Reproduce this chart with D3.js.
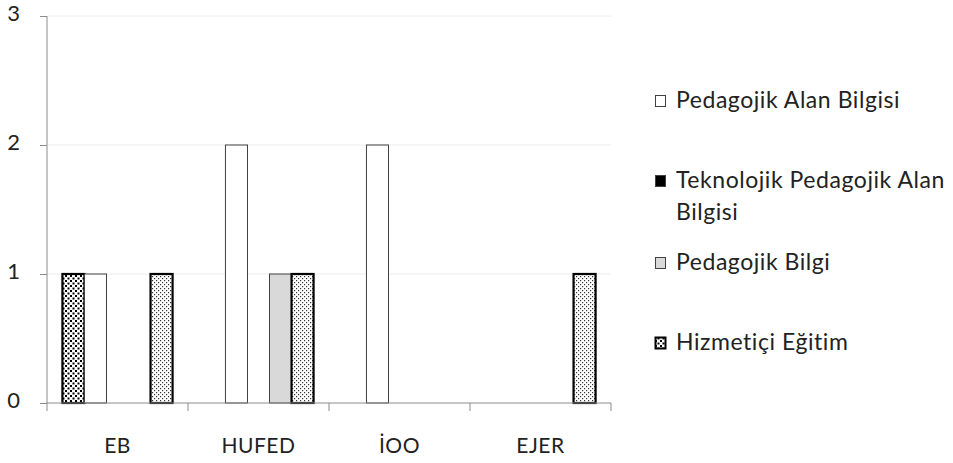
<!DOCTYPE html>
<html>
<head>
<meta charset="utf-8">
<script src="https://cdn.jsdelivr.net/npm/d3@7"></script>
<style>
  html, body { margin: 0; padding: 0; background: #fff; }
  svg { display: block; font-family: Lato, "Open Sans", sans-serif; }
</style>
</head>
<body>
<svg id="chart" width="953" height="463"></svg>
<script>
// Journals / sources on the x axis
const categories = ["EB", "HUFED", "İOO", "EJER"];

// One array per series, values in category order
const seriesKeys = ["s0", "pab", "tpab", "pb", "he"];
const s0Values   = [1, 0, 0, 0];   // dark dotted, not listed in the legend
const pabValues  = [1, 2, 2, 0];   // Pedagojik Alan Bilgisi
const tpabValues = [0, 0, 0, 0];   // Teknolojik Pedagojik Alan Bilgisi
const pbValues   = [0, 1, 0, 0];   // Pedagojik Bilgi
const heValues   = [1, 1, 0, 1];   // Hizmetiçi Eğitim

const yTicks = [0, 1, 2, 3];

const legendItems = [
  { key: "pab",  lines: ["Pedagojik Alan Bilgisi"] },
  { key: "tpab", lines: ["Teknolojik Pedagojik Alan", "Bilgisi"] },
  { key: "pb",   lines: ["Pedagojik Bilgi"] },
  { key: "he",   lines: ["Hizmetiçi Eğitim"] }
];

const valuesByKey = { s0: s0Values, pab: pabValues, tpab: tpabValues, pb: pbValues, he: heValues };

const svg = d3.select("#chart");

// Fill patterns
const defs = svg.append("defs");
const pDark = defs.append("pattern").attr("id", "dotsDark")
  .attr("patternUnits", "userSpaceOnUse").attr("width", 5).attr("height", 5);
pDark.append("rect").attr("width", 5).attr("height", 5).attr("fill", "#fff");
pDark.append("rect").attr("x", 0).attr("y", 0).attr("width", 2).attr("height", 2).attr("fill", "#000");
pDark.append("rect").attr("x", 2.5).attr("y", 2.5).attr("width", 2).attr("height", 2).attr("fill", "#000");

const pLight = defs.append("pattern").attr("id", "dotsLight")
  .attr("patternUnits", "userSpaceOnUse").attr("width", 4).attr("height", 4);
pLight.append("rect").attr("width", 4).attr("height", 4).attr("fill", "#fff");
pLight.append("rect").attr("x", 0).attr("y", 0).attr("width", 1.2).attr("height", 1.2).attr("fill", "#333");
pLight.append("rect").attr("x", 2).attr("y", 2).attr("width", 1.2).attr("height", 1.2).attr("fill", "#333");

const styles = {
  s0:   { fill: "url(#dotsDark)",  stroke: "#000",    sw: 2.2 },
  pab:  { fill: "#fff",            stroke: "#404040", sw: 1 },
  tpab: { fill: "#000",            stroke: "#000",    sw: 1 },
  pb:   { fill: "#d9d9d9",         stroke: "#404040", sw: 1 },
  he:   { fill: "url(#dotsLight)", stroke: "#000",    sw: 2.2 }
};

const plot = { left: 47, right: 611, top: 16, bottom: 403 };

const x = d3.scaleBand().domain(categories).range([plot.left, plot.right]).padding(0);
const xs = d3.scaleBand().domain(seriesKeys).range([0, x.bandwidth()])
  .paddingInner(0).paddingOuter(0.7);
const y = d3.scaleLinear().domain([0, 3]).range([plot.bottom, plot.top]);

// Gridlines
svg.append("g").selectAll("line").data(yTicks.filter(d => d > 0)).join("line")
  .attr("x1", plot.left).attr("x2", plot.right)
  .attr("y1", d => y(d)).attr("y2", d => y(d))
  .attr("stroke", "#ececec").attr("stroke-width", 1);

// Bars
const barData = [];
seriesKeys.forEach(k => {
  valuesByKey[k].forEach((v, i) => {
    if (v > 0) barData.push({ key: k, cat: categories[i], value: v });
  });
});
svg.append("g").selectAll("rect").data(barData).join("rect")
  .attr("x", d => x(d.cat) + xs(d.key))
  .attr("y", d => y(d.value))
  .attr("width", xs.bandwidth())
  .attr("height", d => y(0) - y(d.value))
  .attr("fill", d => styles[d.key].fill)
  .attr("stroke", d => styles[d.key].stroke)
  .attr("stroke-width", d => styles[d.key].sw);

const axisColor = "#8c8c8c";

// Y axis
const yAxis = svg.append("g").attr("transform", `translate(${plot.left},0)`)
  .call(d3.axisLeft(y).tickValues(yTicks).tickFormat(d3.format("d")).tickSize(7).tickPadding(20));
yAxis.select(".domain").attr("stroke", axisColor).attr("d", `M0,${plot.top}V${plot.bottom}`);
yAxis.selectAll(".tick line").attr("stroke", axisColor);
yAxis.selectAll(".tick text").attr("fill", "#222").style("font-size", "22px")
  .style("font-family", "Lato, sans-serif").attr("dy", "0.22em");

// X axis with ticks on category boundaries
const xg = svg.append("g");
xg.append("line").attr("x1", plot.left).attr("x2", plot.right)
  .attr("y1", plot.bottom).attr("y2", plot.bottom).attr("stroke", axisColor);
const bounds = categories.map(c => x(c)).concat([plot.right]);
xg.selectAll("line.tk").data(bounds).join("line").attr("class", "tk")
  .attr("x1", d => d).attr("x2", d => d)
  .attr("y1", plot.bottom).attr("y2", plot.bottom + 8).attr("stroke", axisColor);
xg.selectAll("text").data(categories).join("text")
  .attr("x", d => x(d) + x.bandwidth() / 2).attr("y", 453)
  .attr("text-anchor", "middle").attr("fill", "#222").style("font-size", "21px")
  .style("letter-spacing", "0.5px")
  .text(d => d);

// Legend
const legendRows = [108, 188, 270, 350];
const lg = svg.append("g");
legendItems.forEach((item, i) => {
  const by = legendRows[i];
  lg.append("rect").attr("x", 655.5).attr("y", by - 12.5).attr("width", 10).attr("height", 11)
    .attr("fill", item.key === "he" ? "url(#dotsDark)" : styles[item.key].fill)
    .attr("stroke", item.key === "he" ? "#000" : "#404040")
    .attr("stroke-width", item.key === "he" ? 2 : 1);
  const t = lg.append("text").attr("x", 676).attr("y", by).attr("fill", "#222")
    .style("font-size", "23px").style("letter-spacing", "0.55px");
  item.lines.forEach((ln, j) => {
    t.append("tspan").attr("x", 676).attr("dy", j === 0 ? 0 : 32).text(ln);
  });
});
</script>
</body>
</html>
